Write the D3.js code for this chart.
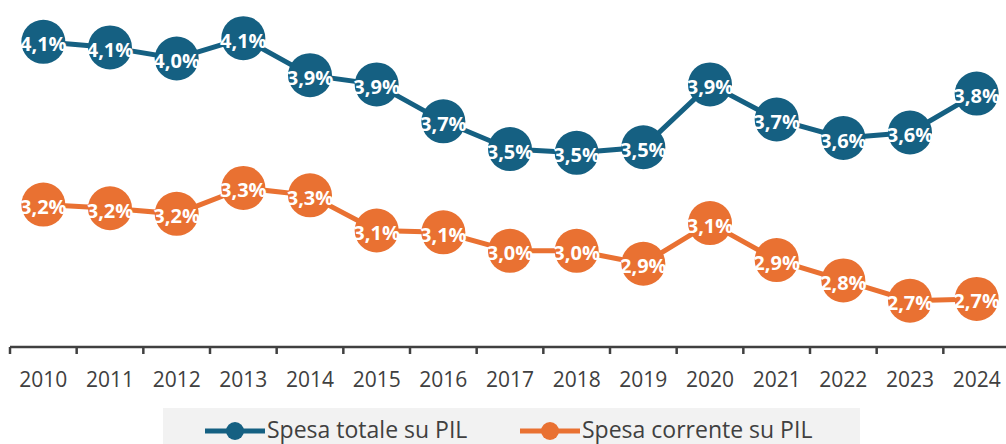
<!DOCTYPE html>
<html>
<head>
<meta charset="utf-8">
<script src="https://cdn.jsdelivr.net/npm/d3@7"></script>
<style>
  body { margin: 0; background: #fff; }
  svg { display: block; font-family: "Open Sans", sans-serif; }
</style>
</head>
<body>
<svg id="chart" width="1006" height="444"></svg>
<script>
// anni e valori (% del PIL)
var years = ["2010","2011","2012","2013","2014","2015","2016","2017","2018","2019","2020","2021","2022","2023","2024"];
var spesaTotale = [4.09, 4.06, 4.00, 4.11, 3.91, 3.86, 3.66, 3.51, 3.49, 3.52, 3.86, 3.67, 3.57, 3.60, 3.81];
var spesaCorrente = [3.21, 3.19, 3.16, 3.30, 3.26, 3.07, 3.06, 2.96, 2.96, 2.89, 3.11, 2.91, 2.80, 2.69, 2.70];
var seriesNames = ["Spesa totale su PIL", "Spesa corrente su PIL"];
var colors = ["#156082", "#E97132"];

var svg = d3.select("#chart");

var x = d3.scaleBand().domain(years).range([10, 1010]).padding(0);
var y = d3.scaleLinear().domain([2.44, 4.3]).range([347, 3]);

var fmt = function(v) { return d3.format(".1f")(v).replace(".", ",") + "%"; };

// asse x
var axis = svg.append("g").attr("transform", "translate(0,347)");
axis.append("line")
    .attr("x1", 10).attr("x2", 1010)
    .attr("stroke", "#404040").attr("stroke-width", 2.5);
axis.selectAll(".tick")
    .data(years.concat(["end"]))
  .enter().append("line")
    .attr("x1", function(d, i) { return 10 + i * x.step(); })
    .attr("x2", function(d, i) { return 10 + i * x.step(); })
    .attr("y1", 0).attr("y2", 7)
    .attr("stroke", "#404040").attr("stroke-width", 2.5);
axis.selectAll(".lbl")
    .data(years)
  .enter().append("text")
    .attr("x", function(d) { return x(d) + x.bandwidth() / 2; })
    .attr("y", 40)
    .attr("text-anchor", "middle")
    .attr("fill", "#404040")
    .style("font-size", "21px")
    .text(function(d) { return d; });

var line = d3.line()
    .x(function(d, i) { return x(years[i]) + x.bandwidth() / 2; })
    .y(function(d) { return y(d); });

[spesaTotale, spesaCorrente].forEach(function(values, s) {
    var g = svg.append("g");
    g.append("path")
        .datum(values)
        .attr("d", line)
        .attr("fill", "none")
        .attr("stroke", colors[s])
        .attr("stroke-width", 5);
    var pt = g.selectAll(".pt")
        .data(values)
      .enter().append("g")
        .attr("transform", function(d, i) {
            return "translate(" + (x(years[i]) + x.bandwidth() / 2) + "," + y(d) + ")";
        });
    pt.append("circle")
        .attr("r", 22)
        .attr("fill", colors[s]);
    pt.append("text")
        .attr("y", 2)
        .attr("text-anchor", "middle")
        .attr("dominant-baseline", "central")
        .attr("fill", "#fff")
        .style("font-size", "20px")
        .style("font-weight", "bold")
        .text(fmt);
});

// legenda
svg.append("rect")
    .attr("x", 163).attr("y", 408)
    .attr("width", 697).attr("height", 40)
    .attr("fill", "#f2f2f2");

var legendX = [205, 520];
seriesNames.forEach(function(name, s) {
    var lg = svg.append("g").attr("transform", "translate(" + legendX[s] + ",431)");
    lg.append("line")
        .attr("x1", 0).attr("x2", 60)
        .attr("stroke", colors[s]).attr("stroke-width", 5);
    lg.append("circle")
        .attr("cx", 30).attr("r", 9)
        .attr("fill", colors[s]);
    lg.append("text")
        .attr("x", 62)
        .attr("y", -2)
        .attr("dominant-baseline", "central")
        .attr("fill", "#404040")
        .style("font-size", "23px")
        .text(name);
});
</script>
</body>
</html>
